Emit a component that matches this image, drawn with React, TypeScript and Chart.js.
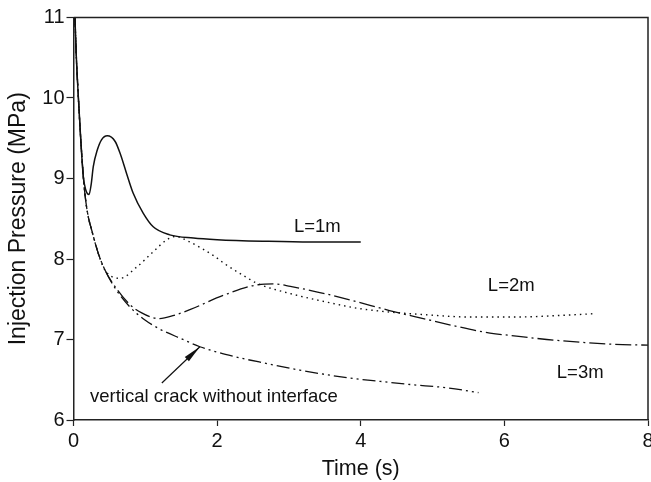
import React, { useEffect, useRef } from "react";
import { Chart, registerables } from "chart.js";

Chart.register(...registerables);

// ---- Data (Time in s, Injection Pressure in MPa) ----
const L1_TIME = [0, 0.02, 0.04, 0.067, 0.1, 0.137, 0.17, 0.195, 0.216, 0.245, 0.276, 0.33, 0.39, 0.47, 0.58, 0.65, 0.74, 0.83, 0.97, 1.11, 1.34, 1.67, 2.0, 2.67, 3.3, 4.0];
const L1_PRESSURE = [11.4, 11.0, 10.5, 10.02, 9.5, 9.02, 8.86, 8.81, 8.8, 8.92, 9.15, 9.35, 9.48, 9.53, 9.46, 9.31, 9.06, 8.82, 8.57, 8.4, 8.3, 8.26, 8.24, 8.22, 8.21, 8.21];

const L2_TIME = [0, 0.02, 0.04, 0.067, 0.1, 0.137, 0.16, 0.2, 0.253, 0.345, 0.415, 0.5, 0.65, 0.88, 1.11, 1.3, 1.42, 1.6, 1.97, 2.09, 2.43, 2.55, 3.02, 3.5, 3.94, 4.3, 4.87, 5.5, 6.2, 6.8, 7.24];
const L2_PRESSURE = [11.4, 11.0, 10.5, 10.02, 9.5, 9.02, 8.8, 8.55, 8.36, 8.07, 7.9, 7.8, 7.76, 7.9, 8.09, 8.24, 8.28, 8.22, 8.03, 7.95, 7.76, 7.7, 7.57, 7.47, 7.39, 7.35, 7.31, 7.28, 7.28, 7.3, 7.32];

const L3_TIME = [0, 0.02, 0.04, 0.067, 0.1, 0.137, 0.16, 0.2, 0.253, 0.345, 0.44, 0.6, 0.79, 0.95, 1.11, 1.2, 1.4, 1.62, 2.09, 2.57, 2.8, 3.02, 3.5, 3.94, 4.4, 4.87, 5.3, 5.8, 6.2, 6.59, 7.0, 7.52, 8.0];
const L3_PRESSURE = [11.4, 11.0, 10.5, 10.02, 9.5, 9.02, 8.8, 8.55, 8.36, 8.07, 7.86, 7.63, 7.43, 7.33, 7.27, 7.26, 7.3, 7.37, 7.55, 7.68, 7.69, 7.66, 7.57, 7.47, 7.36, 7.26, 7.17, 7.08, 7.04, 7.0, 6.97, 6.94, 6.93];

const VC_TIME = [0, 0.02, 0.04, 0.067, 0.1, 0.137, 0.16, 0.2, 0.253, 0.345, 0.44, 0.6, 0.79, 1.0, 1.2, 1.5, 1.76, 2.23, 2.7, 3.15, 3.85, 4.27, 4.7, 5.2, 5.64];
const VC_PRESSURE = [11.4, 11.0, 10.5, 10.02, 9.5, 9.02, 8.8, 8.55, 8.36, 8.07, 7.86, 7.61, 7.4, 7.24, 7.13, 7.01, 6.91, 6.79, 6.7, 6.62, 6.52, 6.48, 6.44, 6.4, 6.34];

const X_TICKS = [0, 2, 4, 6, 8];
const Y_TICKS = [6, 7, 8, 9, 10, 11];

// text labels in data coordinates: [text, time, pressure]
const LABEL_TEXTS = ["L=1m", "L=2m", "L=3m", "vertical crack without interface"];
const LABEL_TIMES = [3.07, 5.77, 6.73, 0.23];
const LABEL_PRESSURES = [8.4, 7.66, 6.58, 6.29];

// arrow from tail to head (data coordinates)
const ARROW_TIMES = [1.23, 1.76];
const ARROW_PRESSURES = [6.46, 6.91];

const FONT = "'Liberation Sans', Arial, Helvetica, sans-serif";

const toPoints = (xs: number[], ys: number[]) => xs.map((x, i) => ({ x, y: ys[i] }));

const annotationPlugin = {
  id: "annotations",
  afterDatasetsDraw(chart: any) {
    const { ctx, chartArea, scales } = chart;
    const xs = scales.x;
    const ys = scales.y;
    ctx.save();
    // frame top and right
    ctx.strokeStyle = "#222";
    ctx.lineWidth = 1.5;
    ctx.beginPath();
    ctx.moveTo(chartArea.left, chartArea.top);
    ctx.lineTo(chartArea.right, chartArea.top);
    ctx.lineTo(chartArea.right, chartArea.bottom);
    ctx.stroke();

    // labels
    ctx.fillStyle = "#111";
    ctx.font = `18.5px ${FONT}`;
    ctx.textAlign = "left";
    ctx.textBaseline = "middle";
    LABEL_TEXTS.forEach((t, i) => {
      ctx.fillText(t, xs.getPixelForValue(LABEL_TIMES[i]), ys.getPixelForValue(LABEL_PRESSURES[i]));
    });

    // arrow
    const x0 = xs.getPixelForValue(ARROW_TIMES[0]);
    const y0 = ys.getPixelForValue(ARROW_PRESSURES[0]);
    const x1 = xs.getPixelForValue(ARROW_TIMES[1]);
    const y1 = ys.getPixelForValue(ARROW_PRESSURES[1]);
    const ang = Math.atan2(y1 - y0, x1 - x0);
    ctx.strokeStyle = "#111";
    ctx.lineWidth = 1.2;
    ctx.beginPath();
    ctx.moveTo(x0, y0);
    ctx.lineTo(x1, y1);
    ctx.stroke();
    const len = 18;
    const half = 3;
    ctx.beginPath();
    ctx.moveTo(x1, y1);
    ctx.lineTo(
      x1 - len * Math.cos(ang) + half * Math.sin(ang),
      y1 - len * Math.sin(ang) - half * Math.cos(ang)
    );
    ctx.lineTo(
      x1 - len * Math.cos(ang) - half * Math.sin(ang),
      y1 - len * Math.sin(ang) + half * Math.cos(ang)
    );
    ctx.closePath();
    ctx.fillStyle = "#111";
    ctx.fill();
    ctx.restore();
  },
};

export default function App() {
  const ref = useRef<HTMLCanvasElement | null>(null);

  useEffect(() => {
    if (!ref.current) return;
    const common = {
      borderColor: "#111",
      pointRadius: 0,
      fill: false,
      cubicInterpolationMode: "monotone" as const,
    };
    const chart = new Chart(ref.current, {
      type: "line",
      data: {
        datasets: [
          { ...common, label: "L=1m", data: toPoints(L1_TIME, L1_PRESSURE), borderWidth: 1.5 },
          { ...common, label: "L=2m", data: toPoints(L2_TIME, L2_PRESSURE), borderWidth: 1.4, borderDash: [1.5, 4] },
          { ...common, label: "L=3m", data: toPoints(L3_TIME, L3_PRESSURE), borderWidth: 1.3, borderDash: [16, 4, 2, 4] },
          { ...common, label: "vertical crack without interface", data: toPoints(VC_TIME, VC_PRESSURE), borderWidth: 1.3, borderDash: [13, 4, 2, 4, 2, 4] },
        ],
      },
      options: {
        animation: false,
        responsive: false,
        maintainAspectRatio: false,
        layout: { padding: { top: 17.5, right: 3, left: 0, bottom: 0 } },
        plugins: { legend: { display: false }, tooltip: { enabled: false } },
        scales: {
          x: {
            type: "linear",
            min: 0,
            max: 8,
            afterBuildTicks: (s: any) => {
              s.ticks = X_TICKS.map((v) => ({ value: v }));
            },
            afterFit: (s: any) => {
              s.height = 62;
              s.paddingLeft = 0;
              s.paddingRight = 0;
            },
            grid: { drawOnChartArea: false, tickLength: 6, color: "#222", tickWidth: 1.2 },
            border: { color: "#222", width: 1.5 },
            ticks: { color: "#111", font: { family: FONT, size: 20 }, padding: 3, maxRotation: 0 },
            title: {
              display: true,
              text: "Time (s)",
              color: "#111",
              font: { family: FONT, size: 21.5 },
              padding: { top: 0, bottom: 0 },
            },
          },
          y: {
            type: "linear",
            min: 6,
            max: 11,
            afterBuildTicks: (s: any) => {
              s.ticks = Y_TICKS.map((v) => ({ value: v }));
            },
            afterFit: (s: any) => {
              s.width = 73.5;
              s.paddingTop = 0;
              s.paddingBottom = 0;
            },
            grid: { drawOnChartArea: false, tickLength: 7, color: "#222", tickWidth: 1.2 },
            border: { color: "#222", width: 1.5 },
            ticks: { color: "#111", font: { family: FONT, size: 20 }, padding: 2 },
            title: {
              display: true,
              text: "Injection Pressure (MPa)",
              color: "#111",
              font: { family: FONT, size: 23 },
              padding: { top: 5, bottom: 0 },
            },
          },
        },
      },
      plugins: [annotationPlugin],
    });
    return () => chart.destroy();
  }, []);

  return (
    <div style={{ position: "absolute", left: 0, top: 0, width: 651, height: 482, background: "#fff" }}>
      <canvas ref={ref} width={651} height={482} style={{ width: 651, height: 482, display: "block" }} />
    </div>
  );
}
